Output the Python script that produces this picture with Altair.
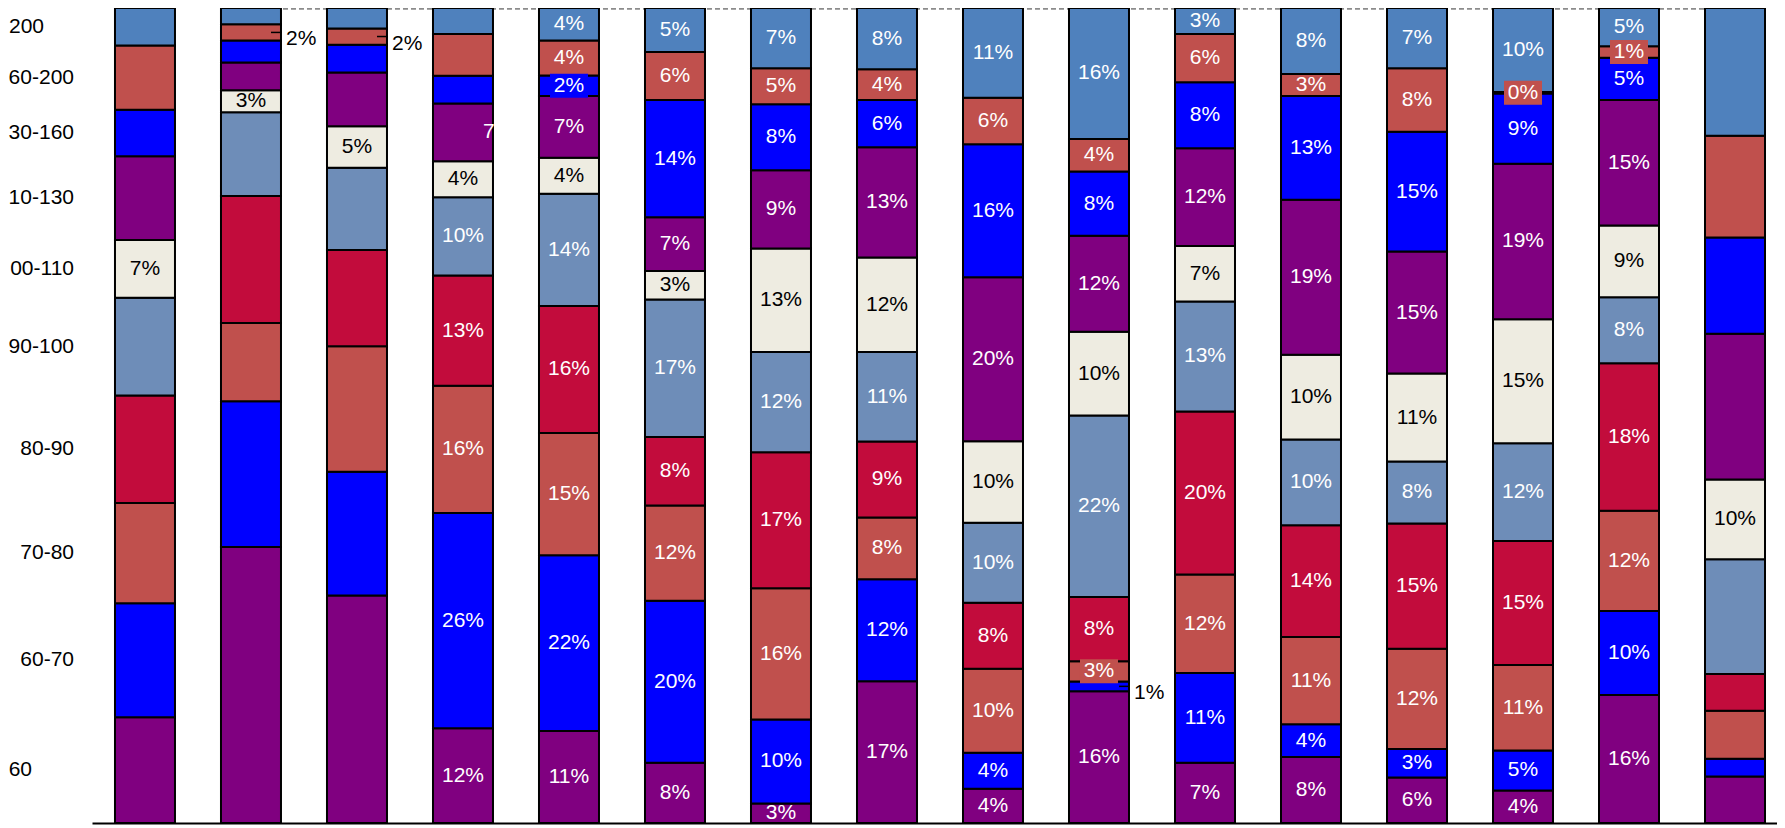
import altair as alt
import pandas as pd

FONT = "Liberation Sans"

bars = [str(i) for i in range(1, 17)]
cats = ["<60", "60-70", "70-80", "80-90", "90-100", "100-110", "110-130", "130-160", "160-200", ">200"]
# category labels as they appear at the left edge of the picture
cat_text = ["60", "60-70", "70-80", "80-90", "90-100", "00-110", "10-130", "30-160", "60-200", "200"]
colors = ["#800080", "#0000FF", "#C0504D", "#C20C3C", "#6E8DB8", "#EEECE1", "#800080", "#0000FF", "#C0504D", "#4F81BD"]

# percentage shares per price band, one value per bar (left to right)
v_lt60 = [13.0, 33.9, 27.9, 11.6, 11.3, 7.4, 2.4, 17.4, 4.2, 16.2, 7.4, 8.1, 5.6, 4.0, 15.7, 5.7]
v_60_70 = [14.0, 17.9, 15.2, 26.4, 21.6, 19.9, 10.3, 12.5, 4.4, 1.2, 11.0, 4.0, 3.5, 4.9, 10.3, 2.2]
v_70_80 = [12.3, 9.6, 15.4, 15.6, 15.0, 11.7, 16.1, 7.6, 10.3, 2.5, 12.1, 10.7, 12.3, 10.5, 12.3, 5.9]
v_80_90 = [13.2, 15.6, 11.8, 13.5, 15.6, 8.4, 16.7, 9.3, 8.1, 7.9, 20.0, 13.7, 15.4, 15.2, 18.1, 4.5]
v_90_100 = [12.0, 10.3, 10.1, 9.6, 13.8, 16.9, 12.3, 11.0, 9.8, 22.3, 13.5, 10.5, 7.6, 12.0, 8.1, 14.1]
v_100_110 = [7.1, 2.7, 5.1, 4.4, 4.4, 3.5, 12.7, 11.6, 10.0, 10.3, 6.8, 10.4, 10.8, 15.2, 8.8, 9.8]
v_110_130 = [10.3, 3.4, 6.6, 7.1, 7.6, 6.6, 9.6, 13.5, 20.1, 11.8, 12.0, 19.0, 15.0, 19.1, 15.4, 17.9]
v_130_160 = [5.7, 2.7, 3.4, 3.4, 2.5, 14.4, 8.1, 5.8, 16.3, 7.9, 8.1, 12.7, 14.7, 8.6, 5.2, 11.8]
v_160_200 = [7.9, 2.0, 2.0, 5.1, 4.3, 5.9, 4.4, 3.8, 5.7, 4.0, 5.9, 2.7, 7.8, 0.2, 1.4, 12.5]
v_gt200 = [4.6, 2.0, 2.5, 3.2, 4.0, 5.4, 7.4, 7.5, 11.0, 16.1, 3.2, 8.1, 7.4, 10.3, 4.7, 15.7]

l_lt60 = ["", "", "", "12%", "11%", "8%", "3%", "17%", "4%", "16%", "7%", "8%", "6%", "4%", "16%", ""]
l_60_70 = ["", "", "", "26%", "22%", "20%", "10%", "12%", "4%", "1%", "11%", "4%", "3%", "5%", "10%", ""]
l_70_80 = ["", "", "", "16%", "15%", "12%", "16%", "8%", "10%", "3%", "12%", "11%", "12%", "11%", "12%", ""]
l_80_90 = ["", "", "", "13%", "16%", "8%", "17%", "9%", "8%", "8%", "20%", "14%", "15%", "15%", "18%", ""]
l_90_100 = ["", "", "", "10%", "14%", "17%", "12%", "11%", "10%", "22%", "13%", "10%", "8%", "12%", "8%", ""]
l_100_110 = ["7%", "3%", "5%", "4%", "4%", "3%", "13%", "12%", "10%", "10%", "7%", "10%", "11%", "15%", "9%", "10%"]
l_110_130 = ["", "", "", "7", "7%", "7%", "9%", "13%", "20%", "12%", "12%", "19%", "15%", "19%", "15%", ""]
l_130_160 = ["", "", "", "", "2%", "14%", "8%", "6%", "16%", "8%", "8%", "13%", "15%", "9%", "5%", ""]
l_160_200 = ["", "2%", "2%", "", "4%", "6%", "5%", "4%", "6%", "4%", "6%", "3%", "8%", "0%", "1%", ""]
l_gt200 = ["", "", "", "", "4%", "5%", "7%", "8%", "11%", "16%", "3%", "8%", "7%", "10%", "5%", ""]

values = [v_lt60, v_60_70, v_70_80, v_80_90, v_90_100, v_100_110, v_110_130, v_130_160, v_160_200, v_gt200]
labels = [l_lt60, l_60_70, l_70_80, l_80_90, l_90_100, l_100_110, l_110_130, l_130_160, l_160_200, l_gt200]

# labels drawn outside the bar with a leader line, label clipped at bar edge, labels with a box
outside = {("2", "160-200"), ("3", "160-200"), ("10", "60-70")}
edge = {("4", "110-130")}
boxed = {("5", "130-160"), ("10", "70-80"), ("14", "160-200"), ("15", "160-200")}

rows = []
for ci, cat in enumerate(cats):
    for bi, b in enumerate(bars):
        key = (b, cat)
        pos = "out" if key in outside else ("edge" if key in edge else "in")
        tcol = "black" if (cat == "100-110" or pos == "out") else "white"
        rows.append(dict(bar=b, cat=cat, ctext=cat_text[ci], ci=ci, value=values[ci][bi],
                         label=labels[ci][bi], pos=pos, tcolor=tcol,
                         box=1 if key in boxed else 0))
df = pd.DataFrame(rows)

xenc = alt.X("bar:N", sort=bars,
             scale=alt.Scale(domain=bars, paddingInner=0.434, paddingOuter=0.165, align=0.657),
             axis=alt.Axis(labels=False, ticks=False, title=None, domain=True,
                           domainColor="#000000", domainWidth=2, grid=False))
yscale = alt.Scale(domain=[0, 1], nice=False, zero=True)
cscale = alt.Scale(domain=cats, range=colors)

base = alt.Chart(df).transform_stack(
    stack="value", groupby=["bar"], sort=[alt.SortField("ci", order="ascending")],
    as_=["y0", "y1"], offset="normalize"
).transform_calculate(mid="(datum.y0 + datum.y1) / 2")

ymid = alt.Y("mid:Q", scale=yscale, axis=None)

rule_df = pd.DataFrame({"bar": [bars[1]], "bar_end": [bars[-1]], "top": [1.0]})
rule = alt.Chart(rule_df).mark_rule(color="#8C8C8C", strokeWidth=3.5, strokeDash=[5, 3]).encode(
    x=xenc, x2="bar_end:N", y=alt.Y("top:Q", scale=yscale, axis=None))

bar_layer = base.mark_bar(stroke="black", strokeWidth=2).encode(
    x=xenc, y=alt.Y("y0:Q", scale=yscale, axis=None), y2="y1:Q",
    color=alt.Color("cat:N", scale=cscale, legend=None))

boxes = base.transform_filter("datum.box == 1").mark_point(
    shape="M-19,-12L19,-12L19,12L-19,12Z", size=4, filled=True, opacity=1, strokeWidth=0
).encode(x=xenc, y=ymid, color=alt.Color("cat:N", scale=cscale, legend=None))

leaders = base.transform_filter("datum.pos == 'out'").mark_point(
    shape="M20,0L31,0", size=4, filled=False, color="black", strokeWidth=1.5, opacity=1
).encode(x=xenc, y=ymid)

lab_in = base.transform_filter("datum.pos == 'in' && datum.label != ''").mark_text(
    font=FONT, fontSize=21, baseline="middle", align="center"
).encode(x=xenc, y=ymid, text="label:N", fill=alt.Fill("tcolor:N", scale=None))

lab_out = base.transform_filter("datum.pos == 'out'").mark_text(
    font=FONT, fontSize=21, baseline="middle", align="left", dx=35, dy=7
).encode(x=xenc, y=ymid, text="label:N", fill=alt.Fill("tcolor:N", scale=None))

lab_edge = base.transform_filter("datum.pos == 'edge'").mark_text(
    font=FONT, fontSize=21, baseline="middle", align="left", dx=20
).encode(x=xenc, y=ymid, text="label:N", fill=alt.Fill("tcolor:N", scale=None))

left_main = base.transform_filter(
    "datum.bar == '1' && datum.cat != '>200' && datum.cat != '<60'"
).mark_text(font=FONT, fontSize=21, baseline="middle", align="right", color="black").encode(
    x=alt.value(-18), y=ymid, text="ctext:N")

left_low = base.transform_filter("datum.bar == '1' && datum.cat == '<60'").mark_text(
    font=FONT, fontSize=21, baseline="middle", align="right", color="black").encode(
    x=alt.value(-60), y=ymid, text="ctext:N")

left_top = base.transform_filter("datum.bar == '1' && datum.cat == '>200'").mark_text(
    font=FONT, fontSize=21, baseline="middle", align="left", color="black").encode(
    x=alt.value(-83), y=ymid, text="ctext:N")

chart = alt.layer(rule, bar_layer, boxes, leaders, lab_in, lab_out, lab_edge,
                  left_main, left_low, left_top).properties(
    width=1685, height=815,
    autosize=alt.AutoSizeParams(type="none"),
    padding={"left": 84, "top": 0, "right": 0, "bottom": 5},
).configure_view(stroke=None)

chart.save("out.html", embed_options={"renderer": "svg", "actions": False})
